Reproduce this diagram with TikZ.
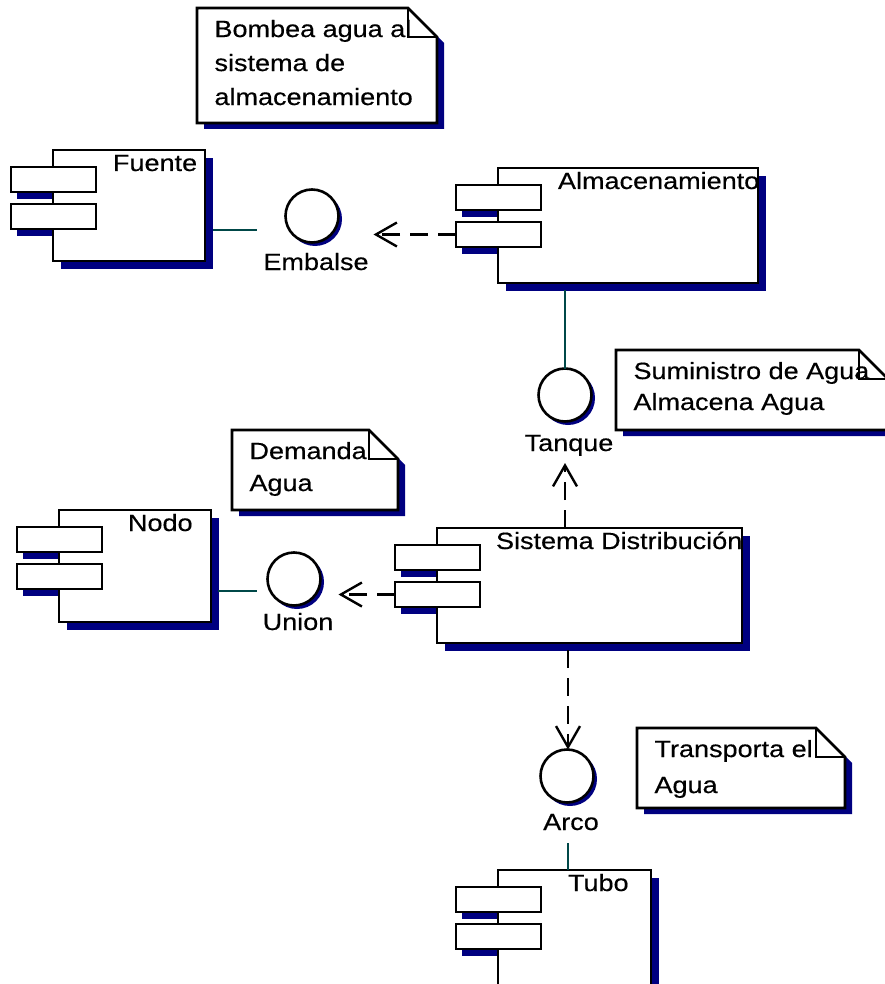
\documentclass[tikz,border=0pt]{standalone}
\usepackage{fontspec}
\setmainfont{Liberation Sans}[FakeStretch=1.15, FakeBold=0.4]
\usetikzlibrary{arrows.meta}

\definecolor{navyshadow}{RGB}{0,0,128}
\definecolor{wire}{RGB}{0,72,72}

\pgfdeclarelayer{back}
\pgfsetlayers{back,main}

\tikzset{
  outline/.style={draw=black, fill=white, line width=2.6pt},
  compbody/.style={outline, rectangle, inner sep=0pt, outer sep=0pt, anchor=north west},
  compport/.style={outline, rectangle, inner sep=0pt, outer sep=0pt, anchor=north west,
                   minimum width=85pt, minimum height=25pt},
  labeltext/.style={inner sep=0pt, outer sep=0pt, font=\fontsize{23.5}{28}\selectfont},
  compname/.style={labeltext, anchor=base west},
  iface/.style={outline, circle, inner sep=0pt, outer sep=0pt, minimum size=53pt},
  ifacename/.style={labeltext, anchor=base},
  lollipop/.style={draw=wire, line width=2.4pt},
  depend/.style={draw=black, line width=2.4pt, dash pattern=on 18pt off 10pt,
                 -{Straight Barb[length=21pt,width=24pt]}},
  notebox/.style={draw=black, fill=white, line width=2.6pt, line join=miter},
  shadowfill/.style={fill=navyshadow},
}

% component: name, x, y, width, height, title, title offset
\newcommand\umlcomponent[7]{%
  \node[compbody, minimum width=#4pt, minimum height=#5pt] (#1) at (#2,#3) {};
  \node[compport] (#1-p1) at ([shift={(-42,17)}]#1.north west) {};
  \node[compport] (#1-p2) at ([shift={(0,37)}]#1-p1.north west) {};
  \node[compname] (#1-name) at ([shift={(#7,21)}]#1.north west) {#6};
  \begin{pgfonlayer}{back}
    \path[shadowfill] ([shift={(8,8)}]#1.north west) rectangle ([shift={(8,8)}]#1.south east);
    \path[shadowfill] ([shift={(6,7)}]#1-p1.north west) rectangle ([shift={(6,7)}]#1-p1.south east);
    \path[shadowfill] ([shift={(6,7)}]#1-p2.north west) rectangle ([shift={(6,7)}]#1-p2.south east);
  \end{pgfonlayer}
}

% interface: name, x, y, label, label x, label baseline
\newcommand\umliface[6]{%
  \node[iface] (#1) at (#2,#3) {};
  \node[ifacename] (#1-name) at (#5,#6) {#4};
  \begin{pgfonlayer}{back}
    \path[shadowfill] ([shift={(3,3)}]#1.center) circle (27pt);
  \end{pgfonlayer}
}

% note with folded corner: name, x1, y1, x2, y2, baseline skip, text
\newcommand\umlnote[7]{%
  \begin{pgfonlayer}{back}
    \path[shadowfill] ({#2+7},{#3+6}) -- ({#4-22},{#3+6}) -- ({#4+7},{#3+35})
      -- ({#4+7},{#5+6}) -- ({#2+7},{#5+6}) -- cycle;
  \end{pgfonlayer}
  \draw[notebox] (#2,#3) -- ({#4-29},#3) -- (#4,{#3+29}) -- (#4,#5) -- (#2,#5) -- cycle;
  \draw[notebox, fill=none] ({#4-29},#3) -- ({#4-29},{#3+29}) -- (#4,{#3+29});
  \node[labeltext, anchor=north west, align=left,
        font=\fontsize{23.5}{#6}\selectfont] (#1) at ({#2+17.5},{#3+12}) {#7};
}

\begin{document}
\begin{tikzpicture}[x=1pt,y=-1pt]
\useasboundingbox (0,0) rectangle (884,984);
\begin{pgfonlayer}{back}
  \fill[white] (0,0) rectangle (884,984);
\end{pgfonlayer}

% notes
\umlnote{bombea}{197}{8}{437}{123}{34}{Bombea agua al\\sistema de\\almacenamiento}
\umlnote{suministro}{616}{350}{888}{430}{31}{Suministro de Agua\\Almacena Agua}
\umlnote{demanda}{232}{430}{398}{510}{32}{Demanda\\Agua}
\umlnote{transporta}{637}{728}{845}{808}{36}{Transporta el\\Agua}

% components
\umlcomponent{fuente}{53}{150}{152}{111}{Fuente}{60}
\umlcomponent{alm}{498}{168}{260}{115}{Almacenamiento}{60}
\umlcomponent{nodo}{59}{510}{152}{112}{Nodo}{69}
\umlcomponent{sis}{437}{528}{305}{115}{Sistema Distribución}{59}
\umlcomponent{tubo}{498}{870}{153}{140}{Tubo}{70}

% interfaces
\umliface{emb}{312}{216}{Embalse}{316}{270}
\umliface{tnq}{565}{395}{Tanque}{569}{451}
\umliface{uni}{294}{579}{Union}{298}{630}
\umliface{arco}{567}{776}{Arco}{571}{830}

% realisations
\draw[lollipop] ([shift={(8,-31)}]fuente.south east) -- ([shift={(-29,14)}]emb.west);
\coordinate (alm-out) at (alm.south -| tnq.north);
\draw[lollipop] ([shift={(0,7)}]alm-out) -- (tnq.north);
\draw[lollipop] ([shift={(7,-31)}]nodo.south east) -- ([shift={(-11,12)}]uni.west);
\coordinate (arco-out) at (arco-name.south -| arco.center);
\coordinate (tubo-in) at (tubo.north -| arco.center);
\draw[lollipop] ([shift={(1,13)}]arco-out) -- ([shift={(1,0)}]tubo-in);

% dependencies
\draw[depend, shorten >=35pt] (alm-p2.west) -- (emb.east |- alm-p2.west);
\coordinate (sis-top) at (sis.north -| tnq.north);
\coordinate (tnq-in) at ([shift={(0,12)}]tnq-name.base -| tnq.center);
\draw[depend] (sis-top) -- (tnq-in);
\draw[depend, shorten >=18pt] (sis-p2.west) -- (uni.east |- sis-p2.west);
\coordinate (sis-out) at (sis.south -| arco.north);
\draw[depend] ([shift={(1,7)}]sis-out) -- ([shift={(1,0)}]arco.north);
\end{tikzpicture}
\end{document}
